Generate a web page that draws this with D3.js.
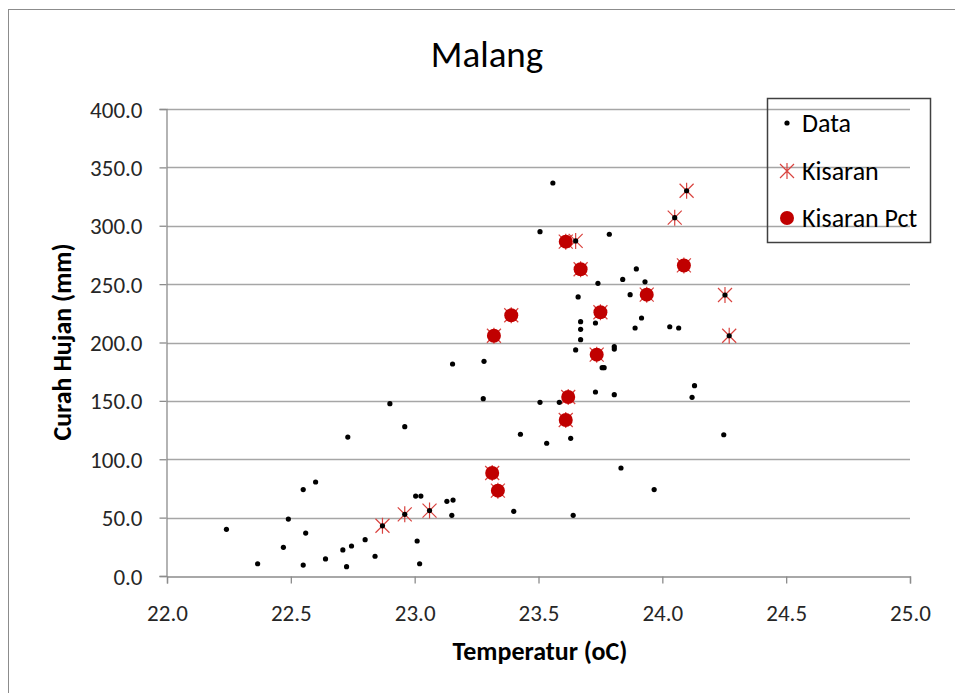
<!DOCTYPE html>
<html>
<head>
<meta charset="utf-8">
<script src="https://cdn.jsdelivr.net/npm/d3@7"></script>
<style>
  body { margin: 0; background: #fff; }
  svg, svg text { display: block; font-family: Carlito, Calibri, Lato, sans-serif; }
</style>
</head>
<body>
<div id="chart"></div>
<script>
// scatter values: temperature (oC), rainfall (mm)
const dataTemp = [22.24, 22.366, 22.47, 22.49, 22.55, 22.55, 22.56, 22.60, 22.64, 22.71,
    22.725, 22.73, 22.745, 22.80, 22.84, 22.87, 22.90, 22.96, 22.96, 23.004,
    23.01, 23.02, 23.025, 23.06, 23.13, 23.15, 23.153, 23.155, 23.277, 23.28,
    23.40, 23.427, 23.506, 23.506, 23.533, 23.558, 23.584, 23.63, 23.64, 23.65,
    23.65, 23.66, 23.67, 23.67, 23.67, 23.73, 23.73, 23.74, 23.757, 23.765,
    23.786, 23.806, 23.806, 23.806, 23.833, 23.84, 23.87, 23.89, 23.895, 23.916,
    23.93, 23.967, 24.03, 24.05, 24.066, 24.098, 24.12, 24.13, 24.248, 24.253,
    24.27];
const dataRain = [40, 10.5, 24.6, 48.8, 74, 9.4, 36.8, 80.5, 14.6, 22.3,
    8, 119, 25.7, 31.1, 16.9, 43, 147.6, 127.9, 52.8, 68.5,
    30, 10.5, 68.5, 56, 64, 52, 181.6, 65, 151.9, 183.9,
    55.4, 121.4, 294.9, 148.8, 113.7, 336.6, 148.8, 117.9, 52, 287,
    193.6, 239, 217.8, 211.3, 202.4, 216.7, 157.6, 250.7, 178.4, 178.4,
    292.7, 196.4, 194.4, 155.3, 92.5, 254, 241, 212.4, 263, 221,
    252, 74, 213.5, 306.9, 212.4, 330, 153, 163, 121, 240.7,
    205.8];

// "Kisaran Pct" points (filled circles)
const pctTemp = [23.313, 23.336, 23.32, 23.39, 23.61, 23.67, 24.087, 23.937, 23.75, 23.735, 23.62, 23.61];
const pctRain = [88.2, 73.1, 205.8, 223.3, 286.4, 262.7, 266, 241, 225.9, 189.6, 153.3, 133.6];

// "Kisaran" points (star markers) that are not under a circle
const kisTemp = [22.87, 22.96, 23.06, 23.65, 24.05, 24.098, 24.253, 24.27];
const kisRain = [43, 52.8, 56, 287, 306.9, 330, 240.7, 205.8];

const xTicks = [22.0, 22.5, 23.0, 23.5, 24.0, 24.5, 25.0];
const yTicks = [0, 50, 100, 150, 200, 250, 300, 350, 400];
const legendNames = ["Data", "Kisaran", "Kisaran Pct"];

const W = 955, H = 693;
const pLeft = 167, pRight = 910, pTop = 109, pBottom = 576;
const starColor = "#d9433f", pctColor = "#c00000";
const fontFam = "Carlito, Calibri, Lato, sans-serif";

const x = d3.scaleLinear().domain([22, 25]).range([pLeft, pRight]);
const y = d3.scaleLinear().domain([0, 400]).range([pBottom, pTop]);

const svg = d3.select("#chart").append("svg").attr("width", W).attr("height", H);

// chart frame (runs off the right and bottom edges)
svg.append("rect").attr("x", 8.5).attr("y", 9.5).attr("width", W + 20).attr("height", H + 20)
    .attr("fill", "#fff").attr("stroke", "#8c8c8c").attr("stroke-width", 1);

// gridlines
svg.append("g").selectAll("line").data(yTicks.filter(t => t > 0)).enter()
    .append("line")
    .attr("x1", pLeft).attr("x2", pRight)
    .attr("y1", d => Math.round(y(d)) + 0.5).attr("y2", d => Math.round(y(d)) + 0.5)
    .attr("stroke", "#a6a6a6").attr("stroke-width", 1.3);

// axes
const fmt = d3.format(".1f");
const gx = svg.append("g").attr("transform", `translate(0,${pBottom + 0.5})`)
    .call(d3.axisBottom(x).tickValues(xTicks).tickFormat(fmt).tickSizeOuter(0).tickSize(7).tickPadding(21));
const gy = svg.append("g").attr("transform", `translate(${pLeft - 0.5},0)`)
    .call(d3.axisLeft(y).tickValues(yTicks).tickFormat(fmt).tickSizeOuter(0).tickSize(7).tickPadding(17));
[gx, gy].forEach(g => {
    g.attr("font-family", fontFam);
    g.selectAll("path, line").attr("stroke", "#8c8c8c").attr("stroke-width", 1.3);
    g.selectAll("text").attr("fill", "#262626").style("font-size", "23px");
});
gy.selectAll("text").attr("dy", "0.35em");

// star marker: X plus vertical bar
function starPath(cx, cy) {
    const s = 8, d = 7;
    return `M${cx - d},${cy - d}L${cx + d},${cy + d}M${cx - d},${cy + d}L${cx + d},${cy - d}M${cx},${cy - s}L${cx},${cy + s}`;
}

// Kisaran stars (also under the circles)
const starT = kisTemp.concat(pctTemp), starR = kisRain.concat(pctRain);
svg.append("g").selectAll("path").data(starT).enter()
    .append("path")
    .attr("d", (t, i) => starPath(x(t), y(starR[i])))
    .attr("stroke", starColor).attr("stroke-width", 1.2).attr("fill", "none");

// data dots
svg.append("g").selectAll("circle").data(dataTemp).enter()
    .append("circle")
    .attr("cx", t => x(t)).attr("cy", (t, i) => y(dataRain[i]))
    .attr("r", 2.6).attr("fill", "#000");

// Kisaran Pct circles
svg.append("g").selectAll("circle").data(pctTemp).enter()
    .append("circle")
    .attr("cx", t => x(t)).attr("cy", (t, i) => y(pctRain[i]))
    .attr("r", 7).attr("fill", pctColor);

// title and axis titles
svg.append("text").attr("x", 487).attr("y", 67).attr("text-anchor", "middle")
    .style("font-size", "37px").attr("fill", "#000").text("Malang");
svg.append("text").attr("x", 540).attr("y", 660).attr("text-anchor", "middle")
    .style("font-size", "26px").style("font-weight", "bold").attr("fill", "#000").text("Temperatur (oC)");
svg.append("text").attr("transform", "translate(71,342) rotate(-90)").attr("text-anchor", "middle")
    .style("font-size", "26px").style("font-weight", "bold").attr("fill", "#000").text("Curah Hujan (mm)");

// legend
const lg = svg.append("g");
lg.append("rect").attr("x", 767.5).attr("y", 98.5).attr("width", 163).attr("height", 144)
    .attr("fill", "none").attr("stroke", "#404040").attr("stroke-width", 1.5);
const legY = [123, 171, 218];
lg.append("circle").attr("cx", 787).attr("cy", legY[0]).attr("r", 2.6).attr("fill", "#000");
lg.append("path").attr("d", starPath(787, legY[1])).attr("stroke", starColor).attr("stroke-width", 1.2);
lg.append("circle").attr("cx", 787).attr("cy", legY[2]).attr("r", 7).attr("fill", pctColor);
lg.selectAll("text").data(legendNames).enter()
    .append("text")
    .attr("x", 802).attr("y", (d, i) => legY[i]).attr("dy", "0.35em")
    .style("font-size", "26px").attr("fill", "#000").text(d => d);
</script>
</body>
</html>
